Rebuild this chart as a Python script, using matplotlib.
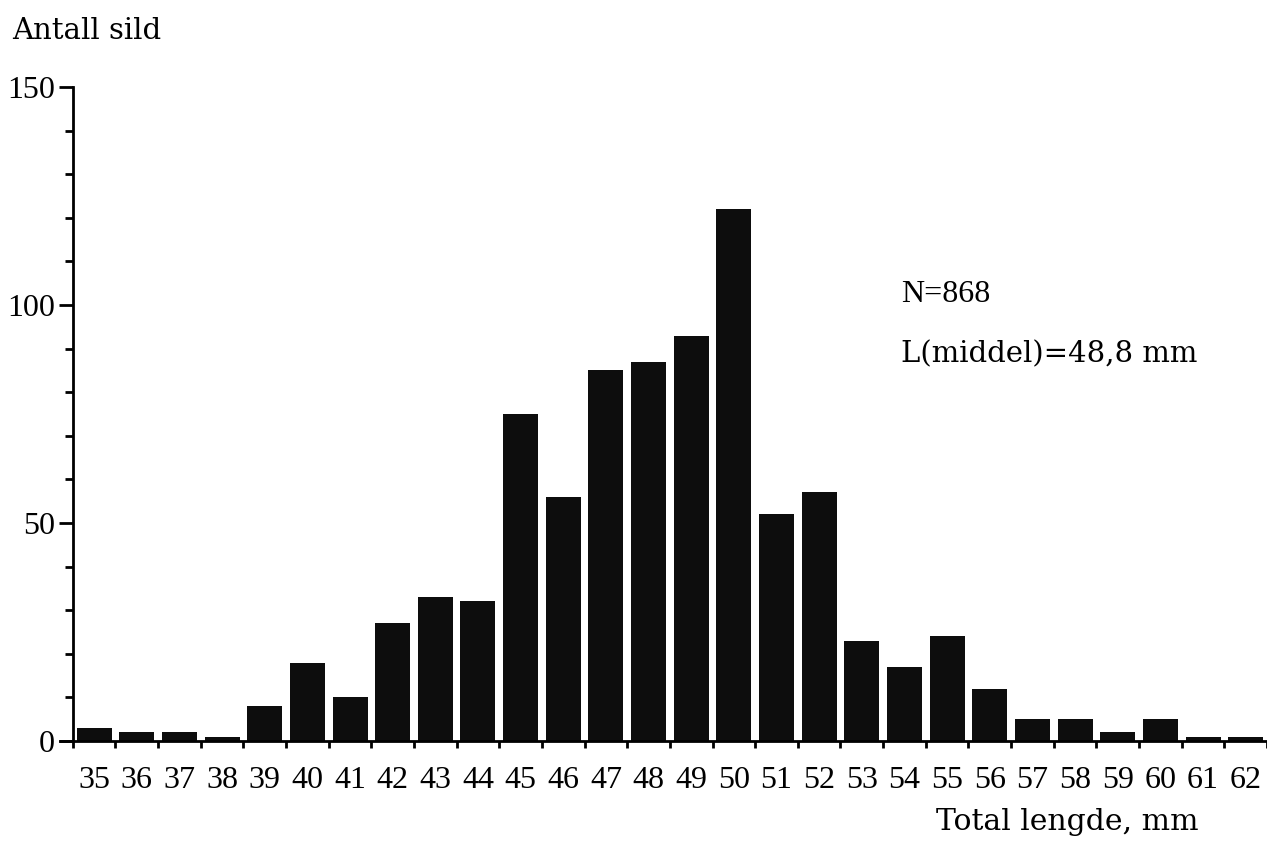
import matplotlib.pyplot as plt
import matplotlib.ticker as ticker

lengths = list(range(35, 63))
counts = [3, 2, 2, 1, 8, 18, 10, 27, 33, 32, 75, 56, 85, 87, 93, 122,
          52, 57, 23, 17, 24, 12, 5, 5, 2, 5, 1, 1]
y_ticks = [0, 50, 100, 150]

NUM_FONT = 'Liberation Serif'
TXT_FONT = 'DejaVu Serif'


def plotting():
    plt.rcParams['font.family'] = [NUM_FONT]
    fig = plt.figure(figsize=(12.67, 8.52), dpi=100)
    ax = fig.add_axes([60 / 1267, 1 - 741 / 852, 1207 / 1267, (741 - 87) / 852])

    ax.bar(lengths, counts, width=0.82, color='#0d0d0d')

    ax.set_xlim(34.2, 62.5)
    ax.set_ylim(0, 150)
    ax.spines['top'].set_visible(False)
    ax.spines['right'].set_visible(False)
    ax.spines['left'].set_position(('data', 34.5))
    ax.spines['left'].set_linewidth(2)
    ax.spines['bottom'].set_linewidth(2)

    ax.set_xticks(lengths)
    ax.set_xticklabels([str(v) for v in lengths])
    ax.xaxis.set_minor_locator(ticker.FixedLocator([v + 0.5 for v in range(34, 63)]))
    ax.tick_params(axis='x', which='major', length=0, pad=18, labelsize=23)
    ax.tick_params(axis='x', which='minor', length=5, width=2, direction='out')

    ax.set_yticks(y_ticks)
    ax.yaxis.set_minor_locator(ticker.MultipleLocator(10))
    ax.tick_params(axis='y', which='major', length=10, width=2, pad=3, labelsize=23)
    ax.tick_params(axis='y', which='minor', length=6, width=2)

    fig.text(12 / 1267, 1 - 31 / 852, 'Antall sild', fontsize=21, va='center',
             family=TXT_FONT)
    fig.text(1199 / 1267, 1 - 822 / 852, 'Total lengde, mm', fontsize=21.5,
             va='center', ha='right', family=TXT_FONT)
    ax.text(0.697, 0.683, 'N=868', transform=ax.transAxes, fontsize=23, va='center')
    ax.text(0.697, 0.591, 'L(middel)=48,8 mm', transform=ax.transAxes, fontsize=21,
            va='center', family=TXT_FONT)

    plt.savefig('out.png', dpi=100)


if __name__ == '__main__':
    plotting()
